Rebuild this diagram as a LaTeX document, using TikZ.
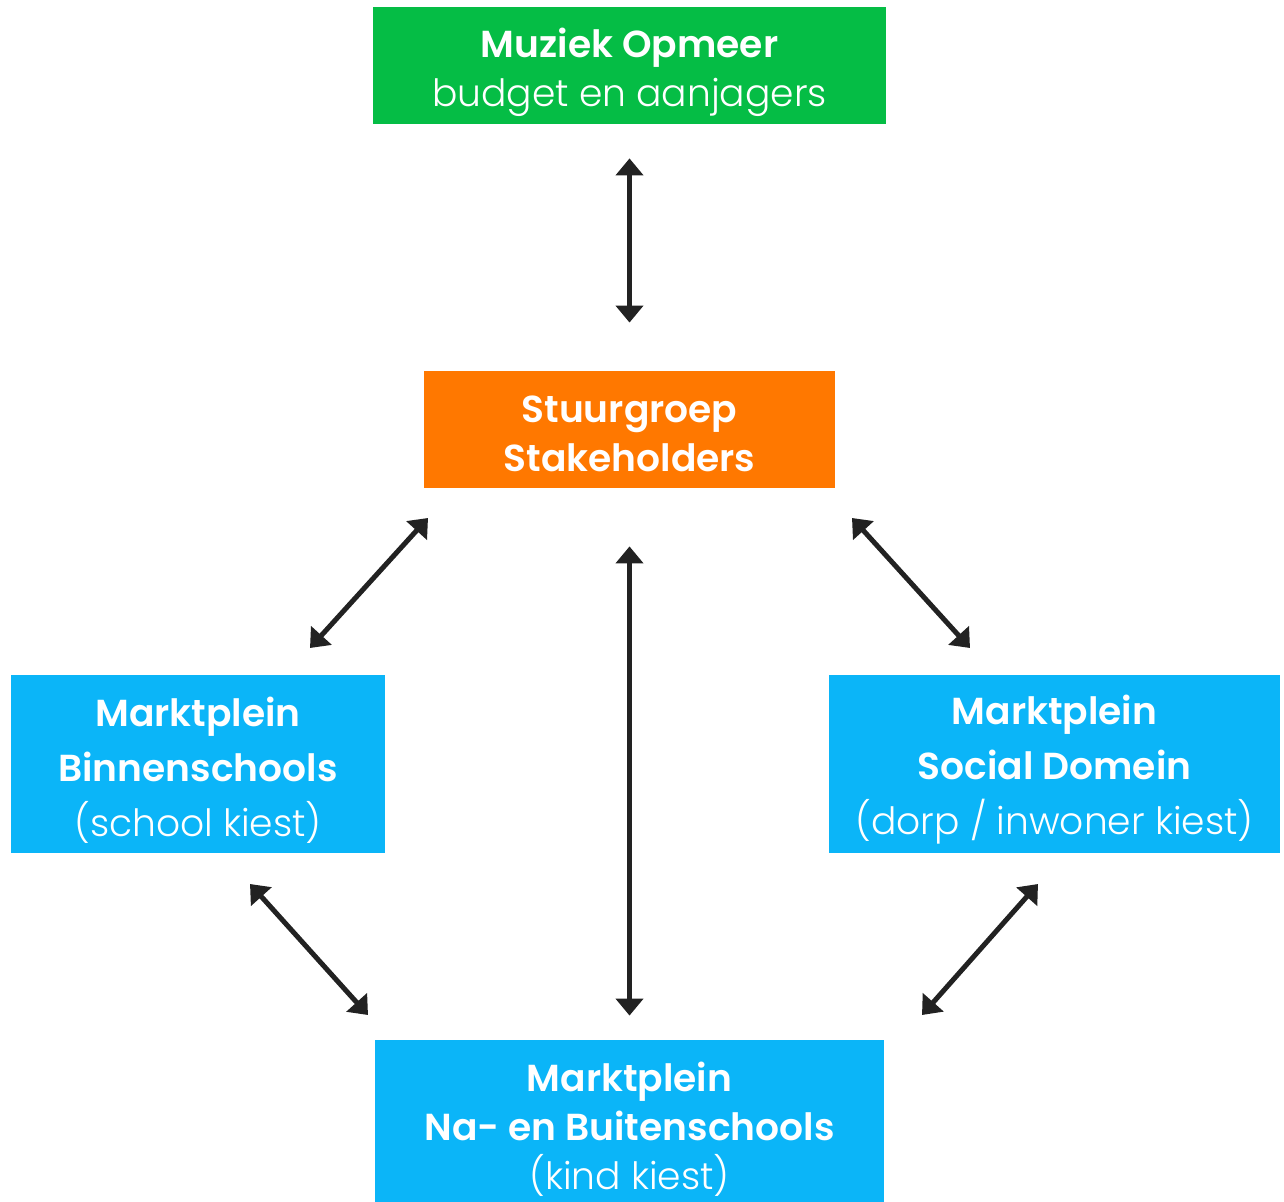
\documentclass[tikz,border=0pt]{standalone}
\usepackage{fontspec}
\setmainfont{Poppins Light}[BoldFont={Poppins SemiBold}]
\usetikzlibrary{arrows.meta}
\definecolor{boxgreen}{HTML}{05BD45}
\definecolor{boxorange}{HTML}{FF7800}
\definecolor{boxblue}{HTML}{0BB5F8}
\definecolor{arrowgray}{HTML}{222222}
\tikzset{
  box/.style={rectangle, inner sep=0pt, anchor=center},
  label text/.style={inner sep=0pt, text=white, align=center, anchor=center},
  tiny/.style={font=\fontsize{18.8}{24.5}\selectfont},
  wide/.style={font=\fontsize{18.8}{27.5}\selectfont},
  link/.style={draw=arrowgray, line width=2.5pt, {Triangle[width=13.5pt,length=8.5pt]}-{Triangle[width=13.5pt,length=8.5pt]}}
}
\begin{document}
\begin{tikzpicture}[x=0.5pt, y=-0.5pt]
\useasboundingbox (0,0) rectangle (1284,1202);
\clip (0,0) rectangle (1284,1202);
\node[box, fill=boxgreen, minimum width=256.5pt, minimum height=58.5pt] (muziek) at (629.5,65.5) {};
\node[label text, tiny] (muziektxt) at ([yshift=-3.5pt]muziek.center)
  {\textbf{Muziek Opmeer}\\budget en aanjagers};
\node[box, fill=boxorange, minimum width=205.5pt, minimum height=58.5pt] (stuur) at (629.5,429.5) {};
\node[label text, tiny] (stuurtxt) at ([yshift=-2pt]stuur.center)
  {\textbf{Stuurgroep}\\\textbf{Stakeholders}};
\node[box, fill=boxblue, minimum width=187pt, minimum height=89pt] (binnen) at (198,764) {};
\node[label text, wide] (binnentxt) at ([yshift=-3pt]binnen.center)
  {\textbf{Marktplein}\\\textbf{Binnenschools}\\(school kiest)};
\node[box, fill=boxblue, minimum width=225.5pt, minimum height=89pt] (sociaal) at (1054.5,764) {};
\node[label text, wide] (sociaaltxt) at ([yshift=-3pt]sociaal.center)
  {\textbf{Marktplein}\\\textbf{Social Domein}\\(dorp / inwoner kiest)};
\node[box, fill=boxblue, minimum width=254.5pt, minimum height=87pt] (buiten) at (629.5,1127) {};
\node[label text, tiny] (buitentxt) at ([yshift=-1pt]buiten.center)
  {\textbf{Marktplein}\\\textbf{Na- en Buitenschools}\\(kind kiest)};
\coordinate (lu1) at (428,518);
\coordinate (lu2) at (310,648);
\coordinate (ru1) at (852,518);
\coordinate (ru2) at (970,648);
\coordinate (ll1) at (250,884);
\coordinate (ll2) at (368,1015);
\coordinate (rl1) at (1038,884);
\coordinate (rl2) at (922,1015);
\draw[link, shorten <=17pt, shorten >=24pt] (muziek.south) -- (stuur.north);
\draw[link, shorten <=29pt, shorten >=12pt] (stuur.south) -- (buiten.north);
\draw[link] (lu1) -- (lu2);
\draw[link] (ru1) -- (ru2);
\draw[link] (ll1) -- (ll2);
\draw[link] (rl1) -- (rl2);
\end{tikzpicture}
\end{document}
